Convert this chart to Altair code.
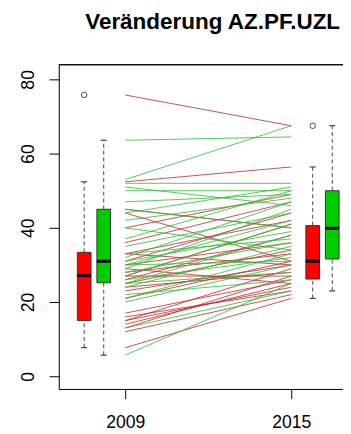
import altair as alt
import pandas as pd

# ---- data ----
years = [2009, 2015]

# individual trajectories (2009 -> 2015)
red_2009 = [7.7, 12, 13, 14, 15, 15, 16, 17, 21, 23, 24, 25, 26, 27, 27, 28, 29, 30, 31, 33, 33, 36, 40, 44, 45, 52.4, 75.8]
red_2015 = [21, 22, 27, 25, 24, 29, 23, 26, 31, 30, 28, 34, 38, 27, 41, 33, 25, 36, 44, 42, 30, 47, 49, 31, 40, 56.4, 67.5]

green_2009 = [5.7, 13, 20, 21, 22, 24, 25, 25, 26, 27, 28, 29, 30, 30, 31, 32, 33, 35, 37, 40, 42, 44, 45, 47, 50, 51, 52, 53, 63.6]
green_2015 = [25, 23, 30, 33, 26, 35, 28, 38, 32, 41, 36, 45, 31, 42, 39, 47, 37, 44, 50, 34, 48, 51, 40, 49, 50, 46, 52, 67.5, 64.5]

# boxplot statistics
box_group = ["rot", "grün", "rot", "grün"]
box_year = [2009, 2009, 2015, 2015]
box_lo = [7.7, 5.7, 21, 23]
box_q1 = [15, 25.2, 26.2, 31.6]
box_med = [27.1, 31, 31, 39.9]
box_q3 = [33.4, 45, 40.6, 50]
box_hi = [52.4, 63.6, 56.4, 67.5]

out_group = ["rot", "rot"]
out_year = [2009, 2015]
out_val = [75.8, 67.5]

# ---- layout constants ----
W, H = 291, 332
OFFSET = {("rot", 2009): -1.482, ("grün", 2009): -0.776,
          ("rot", 2015): 0.776, ("grün", 2015): 1.482}
HALF = 0.247
CAP = 0.11
FONT = "Liberation Sans"

rows = []
for g, a, b in (("rot", red_2009, red_2015), ("grün", green_2009, green_2015)):
    for i, (v1, v2) in enumerate(zip(a, b)):
        rows.append({"id": f"{g}{i}", "group": g, "year": years[0], "value": v1})
        rows.append({"id": f"{g}{i}", "group": g, "year": years[1], "value": v2})
lines_df = pd.DataFrame(rows)

box_df = pd.DataFrame({"group": box_group, "year": box_year, "lo": box_lo, "q1": box_q1,
                       "med": box_med, "q3": box_q3, "hi": box_hi})
box_df["xc"] = [y + OFFSET[(g, y)] for g, y in zip(box_group, box_year)]
box_df["xl"] = box_df["xc"] - HALF
box_df["xr"] = box_df["xc"] + HALF
box_df["cl"] = box_df["xc"] - CAP
box_df["cr"] = box_df["xc"] + CAP

out_df = pd.DataFrame({"group": out_group, "year": out_year, "value": out_val})
out_df["xc"] = [y + OFFSET[(g, y)] for g, y in zip(out_group, out_year)]

xs = alt.Scale(domain=[2006.6, 2016.871], nice=False, zero=False)
ys = alt.Scale(domain=[-3.42, 83.95], nice=False, zero=False)

x_axis = alt.Axis(values=years, format="d", title=None, grid=False, tickSize=10,
                  labelFontSize=18, labelPadding=15, labelFlush=False)
y_axis = alt.Axis(values=[0, 20, 40, 60, 80], title=None, grid=False, tickSize=10,
                  labelFontSize=18, labelAngle=-90,
                  labelAlign="center", labelBaseline="alphabetic", labelPadding=16)

def X(f):
    return alt.X(f, scale=xs, axis=x_axis)

def Y(f):
    return alt.Y(f, scale=ys, axis=y_axis)

lines = alt.Chart(lines_df).mark_line(strokeWidth=1, opacity=0.8).encode(
    x=X("year:Q"),
    y=Y("value:Q"),
    detail="id:N",
    stroke=alt.Stroke("group:N", scale=alt.Scale(domain=["rot", "grün"], range=["#B8262A", "#2DB82D"]), legend=None),
)

base = alt.Chart(box_df)
whisk_lo = base.mark_rule(strokeDash=[4, 3], color="#444", strokeWidth=1).encode(
    x=X("xc:Q"), y=Y("lo:Q"), y2="q1:Q")
whisk_hi = base.mark_rule(strokeDash=[4, 3], color="#444", strokeWidth=1).encode(
    x=X("xc:Q"), y=Y("q3:Q"), y2="hi:Q")
cap_lo = base.mark_rule(color="#222", strokeWidth=1).encode(
    x=X("cl:Q"), x2="cr:Q", y=Y("lo:Q"))
cap_hi = base.mark_rule(color="#222", strokeWidth=1).encode(
    x=X("cl:Q"), x2="cr:Q", y=Y("hi:Q"))
boxes = base.mark_rect(stroke="#333", strokeWidth=1).encode(
    x=X("xl:Q"), x2="xr:Q", y=Y("q1:Q"), y2="q3:Q",
    fill=alt.Fill("group:N", scale=alt.Scale(domain=["rot", "grün"], range=["#FF0000", "#00CD00"]), legend=None))
medians = base.mark_rule(color="black", strokeWidth=3).encode(
    x=X("xl:Q"), x2="xr:Q", y=Y("med:Q"))
outliers = alt.Chart(out_df).mark_point(filled=False, size=32, color="black", strokeWidth=1).encode(
    x=X("xc:Q"), y=Y("value:Q"))
top_frame = alt.Chart(out_df).mark_rule(color="black", strokeWidth=1).encode(
    x=alt.value(0), x2=alt.value(W), y=alt.value(0))

chart = alt.layer(lines, whisk_lo, whisk_hi, cap_lo, cap_hi, boxes, medians, outliers, top_frame).properties(
    width=W, height=H,
    title=alt.TitleParams("Veränderung AZ.PF.UZL", font=FONT, fontSize=23, fontWeight="bold",
                          color="black", anchor="middle", baseline="alphabetic", offset=13, dx=12),
    autosize=alt.AutoSizeParams(type="none"),
    padding={"left": 52, "top": 53, "right": 0, "bottom": 40},
).configure_view(stroke=None).configure(background="white").configure_axis(
    labelFont=FONT, labelColor="black", domainColor="black", tickColor="black")

chart.save("out.html", embed_options={"renderer": "svg", "actions": False})
